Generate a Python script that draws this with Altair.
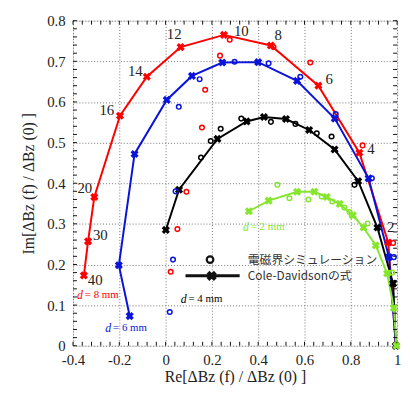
import altair as alt
import pandas as pd

# ---- Cole-Davidson curves (X markers) ----
red_x = [-0.353, -0.335, -0.308, -0.197, -0.081, 0.065, 0.252, 0.455, 0.660, 0.837, 0.962, 0.995]
red_y = [0.173, 0.257, 0.366, 0.566, 0.662, 0.735, 0.765, 0.739, 0.640, 0.475, 0.254, 0.0]
blue_x = [-0.155, -0.202, -0.134, 0.005, 0.114, 0.245, 0.400, 0.568, 0.731, 0.877, 0.965, 0.995]
blue_y = [0.073, 0.198, 0.472, 0.605, 0.664, 0.697, 0.698, 0.652, 0.559, 0.412, 0.218, 0.0]
black_x = [0.001, 0.058, 0.224, 0.350, 0.425, 0.520, 0.620, 0.730, 0.832, 0.915, 0.983, 0.995]
black_y = [0.285, 0.384, 0.509, 0.552, 0.563, 0.558, 0.531, 0.483, 0.405, 0.291, 0.153, 0.0]
green_x = [0.360, 0.445, 0.568, 0.643, 0.696, 0.752, 0.809, 0.855, 0.908, 0.957, 0.986, 0.997]
green_y = [0.331, 0.357, 0.379, 0.379, 0.366, 0.349, 0.321, 0.291, 0.247, 0.178, 0.093, 0.0]

# ---- electromagnetic simulation (open circles) ----
pink_x = [0.277, 0.466, 0.625, 0.235, 0.171, 0.157, 0.090, 0.051, 0.022, 0.851, 0.983]
pink_y = [0.753, 0.735, 0.697, 0.714, 0.630, 0.537, 0.379, 0.287, 0.182, 0.493, 0.253]
cyan_x = [0.057, 0.147, 0.298, 0.445, 0.582, 0.735, 0.891, 0.986, 0.043, 0.032, 0.018]
cyan_y = [0.588, 0.656, 0.699, 0.695, 0.662, 0.570, 0.412, 0.218, 0.380, 0.212, 0.083]
gray_x = [0.153, 0.195, 0.238, 0.327, 0.455, 0.561, 0.653, 0.717, 0.816]
gray_y = [0.463, 0.504, 0.534, 0.559, 0.551, 0.546, 0.523, 0.515, 0.396]
dgreen_x = [0.483, 0.535, 0.617, 0.674, 0.720, 0.773, 0.795, 0.804, 0.872, 0.979]
dgreen_y = [0.396, 0.363, 0.360, 0.367, 0.355, 0.340, 0.329, 0.321, 0.301, 0.180]

# ---- frequency labels on the d=8 mm curve ----
freq_text = ["12", "10", "8", "6", "4", "2", "14", "16", "20", "30", "40"]
freq_x = [0.037, 0.327, 0.486, 0.707, 0.887, 0.972, -0.131, -0.254, -0.349, -0.282, -0.304]
freq_y = [0.768, 0.775, 0.765, 0.656, 0.485, 0.291, 0.675, 0.580, 0.388, 0.273, 0.161]

# ---- thickness labels ----
d_text = ["= 8 mm", "= 6 mm", "= 4 mm", "= 2 mm"]
d_x = [-0.383, -0.261, 0.065, 0.334]
d_y = [0.125, 0.044, 0.115, 0.291]
d_series = ["8", "6", "4", "2"]

x_ticks = [-0.4, -0.2, 0, 0.2, 0.4, 0.6, 0.8, 1.0]
y_ticks = [0, 0.1, 0.2, 0.3, 0.4, 0.5, 0.6, 0.7, 0.8]
x_minor = [round(-0.4 + 0.04 * i, 3) for i in range(36)]
y_minor = [round(0.02 * i, 3) for i in range(41)]

W, H = 329, 330
SERIF = "Liberation Serif"

series_dom = ["8", "6", "4", "2"]
line_col = ["#ff0000", "#0a14d8", "#000000", "#86e62e"]
circ_col = ["#ec2f8e", "#19b6ea", "#555555", "#2a8a2a"]

line_rows = []
for s, xs_, ys_ in [("8", red_x, red_y), ("6", blue_x, blue_y), ("4", black_x, black_y), ("2", green_x, green_y)]:
    for i, (a, b) in enumerate(zip(xs_, ys_)):
        line_rows.append({"x": a, "y": b, "s": s, "i": i})
lines_df = pd.DataFrame(line_rows)

circ_rows = []
for s, xs_, ys_ in [("8", pink_x, pink_y), ("6", cyan_x, cyan_y), ("4", gray_x, gray_y), ("2", dgreen_x, dgreen_y)]:
    for a, b in zip(xs_, ys_):
        circ_rows.append({"x": a, "y": b, "s": s})
circ_df = pd.DataFrame(circ_rows)

xs = alt.Scale(domain=[-0.4, 1.0], nice=False, zero=False)
ys = alt.Scale(domain=[0, 0.8], nice=False, zero=False)

X = alt.X("x:Q", scale=xs, axis=alt.Axis(
    values=x_ticks, title="Re[ΔBz (f) / ΔBz (0) ]", ticks=False, domain=False,
    labelExpr="datum.value == 0 ? '0' : datum.value == 1 ? '1' : toString(round(datum.value*10)/10)",
    labelFont=SERIF, labelFontSize=15, labelColor="#222", labelPadding=7,
    titleFont=SERIF, titleFontSize=16, titleFontWeight="normal", titleColor="#222", titlePadding=1,
    grid=True, gridDash=[1, 2], gridColor="#777", gridOpacity=1, labelFlush=False))
Y = alt.Y("y:Q", scale=ys, axis=alt.Axis(
    values=y_ticks, title="Im[ΔBz (f) / ΔBz (0) ]", ticks=False, domain=False,
    labelExpr="datum.value == 0 ? '0' : toString(round(datum.value*10)/10)",
    labelFont=SERIF, labelFontSize=15, labelColor="#222", labelPadding=8,
    titleFont=SERIF, titleFontSize=16, titleFontWeight="normal", titleColor="#222", titlePadding=10,
    grid=True, gridDash=[1, 2], gridColor="#777", gridOpacity=1, labelFlush=False))

line_color = alt.Color("s:N", scale=alt.Scale(domain=series_dom, range=line_col), legend=None)

lines = alt.Chart(lines_df).mark_line(strokeWidth=2).encode(x=X, y=Y, color=line_color, order="i:Q")
xmarks = alt.Chart(lines_df).mark_point(shape="cross", angle=45, size=70, filled=True, opacity=1).encode(
    x="x:Q", y="y:Q", color=line_color)
circles = alt.Chart(circ_df).mark_point(shape="circle", size=22, filled=False, strokeWidth=1.5, opacity=1).encode(
    x="x:Q", y="y:Q",
    color=alt.Color("s:N", scale=alt.Scale(domain=series_dom, range=circ_col), legend=None))

freq_df = pd.DataFrame({"x": freq_x, "y": freq_y, "t": freq_text})
freq_labels = alt.Chart(freq_df).mark_text(font=SERIF, fontSize=15, color="#222").encode(
    x="x:Q", y="y:Q", text="t:N")

d_df = pd.DataFrame({"x": d_x, "y": d_y, "t": d_text, "s": d_series})
d_col = alt.Color("s:N", scale=alt.Scale(domain=series_dom, range=["#ff2020", "#1a2ad8", "#111111", "#2a9a2a"]), legend=None)
d_italic = alt.Chart(d_df).mark_text(font=SERIF, fontSize=12, fontStyle="italic", align="left", text="d").encode(
    x="x:Q", y="y:Q", color=d_col)
d_rest = alt.Chart(d_df).mark_text(font=SERIF, fontSize=11, align="left", dx=8).encode(
    x="x:Q", y="y:Q", text="t:N", color=d_col)

# legend
leg_circle = alt.Chart(pd.DataFrame({"x": [0.192], "y": [0.212]})).mark_point(
    shape="circle", size=45, filled=False, strokeWidth=2.2, color="#111", opacity=1).encode(x="x:Q", y="y:Q")
leg_line = alt.Chart(pd.DataFrame({"x": [0.086], "x2": [0.320], "y": [0.172]})).mark_rule(
    strokeWidth=3, color="#111").encode(x="x:Q", x2="x2:Q", y="y:Q")
leg_x = alt.Chart(pd.DataFrame({"x": [0.199], "y": [0.172]})).mark_point(
    shape="cross", angle=45, size=110, filled=True, color="#111", opacity=1).encode(x="x:Q", y="y:Q")
leg_text = alt.Chart(pd.DataFrame({"x": [0.355, 0.355], "y": [0.212, 0.172],
                                   "t": ["電磁界シミュレーション", "Cole-Davidsonの式"]})).mark_text(
    font="Noto Sans CJK JP", fontSize=12, align="left", color="#333").encode(x="x:Q", y="y:Q", text="t:N")

# inward minor ticks
top_ticks = alt.Chart(pd.DataFrame({"x": x_minor})).mark_rule(color="#111", strokeWidth=1).encode(
    x="x:Q", y=alt.value(0), y2=alt.value(4))
bot_ticks = alt.Chart(pd.DataFrame({"x": x_minor})).mark_rule(color="#111", strokeWidth=1).encode(
    x="x:Q", y=alt.value(H), y2=alt.value(H - 4))
left_ticks = alt.Chart(pd.DataFrame({"y": y_minor})).mark_rule(color="#111", strokeWidth=1).encode(
    y="y:Q", x=alt.value(0), x2=alt.value(4))
right_ticks = alt.Chart(pd.DataFrame({"y": y_minor})).mark_rule(color="#111", strokeWidth=1).encode(
    y="y:Q", x=alt.value(W), x2=alt.value(W - 4))

chart = alt.layer(
    lines, top_ticks, bot_ticks, left_ticks, right_ticks, xmarks, circles,
    freq_labels, d_italic, d_rest, leg_line, leg_x, leg_circle, leg_text
).properties(
    width=W, height=H, autosize="none",
    padding={"left": 66, "top": 10, "right": 5, "bottom": 38},
).configure_view(stroke="#111", strokeWidth=1.5).configure(background="white")

chart.save("out.html", embed_options={"renderer": "svg", "actions": False})
